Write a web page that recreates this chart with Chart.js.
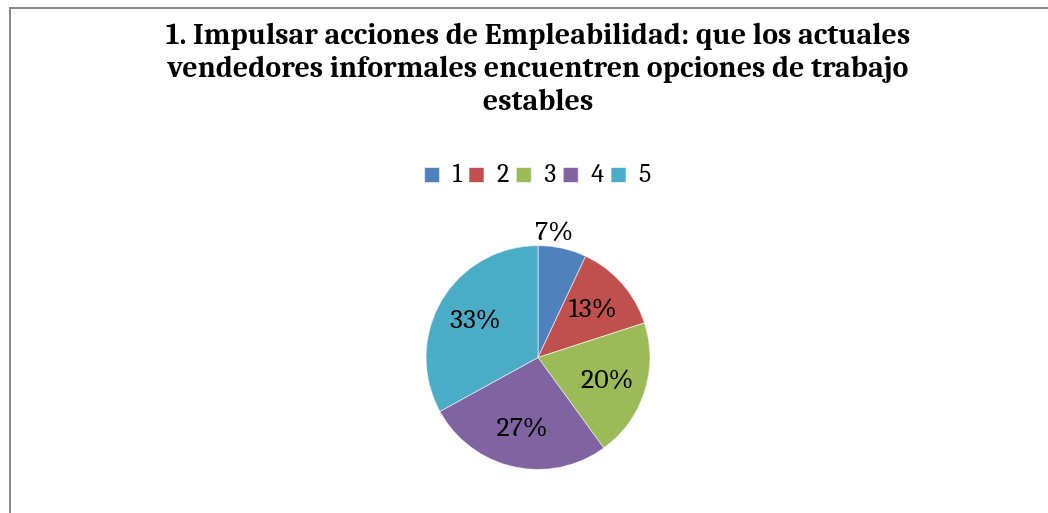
<!DOCTYPE html>
<html>
<head>
<meta charset="utf-8">
<script src="https://cdn.jsdelivr.net/npm/chart.js@4"></script>
<style>
  html, body { margin: 0; padding: 0; background: #fff; overflow: hidden; }
  #wrap { position: relative; width: 1048px; height: 513px; }
  #frame { position: absolute; left: 9px; top: 7px; right: -10px; bottom: -10px; border-left: 2px solid #8a8a8a; border-top: 2px solid #8a8a8a; }
  canvas { position: absolute; left: 0; top: 0; }
</style>
</head>
<body>
<div id="wrap">
  <div id="frame"></div>
  <canvas id="pieChart" width="1048" height="513"></canvas>
</div>
<script>
// values
const categories = ['1', '2', '3', '4', '5'];
const shares = [7, 13, 20, 27, 33];
const sliceColors = ['#4F81BD', '#C0504D', '#9BBB59', '#8064A2', '#4BACC6'];
const titleLines = [
    '1. Impulsar acciones de Empleabilidad: que los actuales',
    'vendedores informales encuentren opciones de trabajo',
    'estables'
];

const serif = "Cambria, 'DejaVu Serif', 'Liberation Serif', serif";

// draws the percent labels on (or just outside) each slice
const sliceLabels = {
    id: 'sliceLabels',
    afterDatasetsDraw(chart) {
        const ctx = chart.ctx;
        const meta = chart.getDatasetMeta(0);
        const total = shares.reduce((a, b) => a + b, 0);
        ctx.save();
        ctx.font = '28px ' + serif;
        ctx.fillStyle = '#000';
        ctx.textAlign = 'center';
        ctx.textBaseline = 'middle';
        meta.data.forEach((arc, i) => {
            const p = arc.getProps(['x', 'y', 'startAngle', 'endAngle', 'outerRadius'], true);
            const mid = (p.startAngle + p.endAngle) / 2;
            const small = shares[i] / total < 0.1;
            const r = small ? p.outerRadius + 17 : p.outerRadius * 0.65;
            let x = p.x + Math.cos(mid) * r;
            const y = p.y + Math.sin(mid) * r;
            if (small) x -= 12;
            ctx.fillText(Math.round(shares[i] / total * 100) + '%', x, y);
        });
        ctx.restore();
    }
};

// give the legend some extra room below it
const legendGap = {
    id: 'legendGap',
    beforeInit(chart) {
        const fit = chart.legend.fit;
        chart.legend.fit = function () {
            fit.bind(chart.legend)();
            this.height += 10;
        };
    }
};

function initializeChart() {
    const ctx = document.getElementById('pieChart').getContext('2d');
    new Chart(ctx, {
        type: 'pie',
        data: {
            labels: categories,
            datasets: [{
                data: shares,
                backgroundColor: sliceColors,
                borderColor: 'rgba(255,255,255,0.6)',
                borderWidth: 1
            }]
        },
        options: {
            responsive: false,
            animation: false,
            radius: 112,
            layout: {
                padding: { top: 0, left: 28, bottom: 6 }
            },
            plugins: {
                title: {
                    display: true,
                    text: titleLines,
                    color: '#000',
                    font: { family: serif, size: 30, weight: 'bold', lineHeight: 1.1 },
                    padding: { top: 19, bottom: 37 }
                },
                legend: {
                    position: 'top',
                    labels: {
                        color: '#000',
                        font: { family: serif, size: 26 },
                        boxWidth: 15,
                        boxHeight: 15,
                        padding: 7
                    }
                },
                tooltip: { enabled: false }
            }
        },
        plugins: [sliceLabels, legendGap]
    });
}

document.addEventListener('DOMContentLoaded', initializeChart);
</script>
</body>
</html>
